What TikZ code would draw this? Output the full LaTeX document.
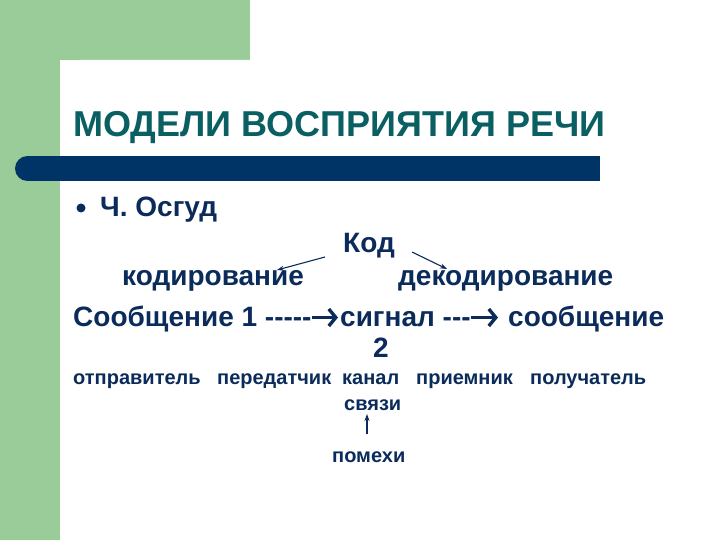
\documentclass[tikz,border=0pt]{standalone}
\usepackage{fontspec}
\setmainfont{Liberation Sans}
\usetikzlibrary{arrows.meta}
\definecolor{gr}{HTML}{99CC99}
\definecolor{teal1}{HTML}{0A5F63}
\definecolor{navy}{HTML}{0B2B5B}
\definecolor{bar}{HTML}{003366}
\tikzset{
  body/.style={anchor=base west, inner sep=0pt, text=navy, font=\fontsize{28}{30}\selectfont\bfseries},
  small/.style={anchor=base west, inner sep=0pt, text=navy, font=\fontsize{20}{22}\selectfont\bfseries},
  conn/.style={navy, line width=1.1pt, -{Stealth[length=7pt,width=5pt]}},
  chev/.style={navy, line width=3.4pt, -{Straight Barb[length=7pt,width=17pt,line width=3.4pt]}}
}
\begin{document}
\begin{tikzpicture}[x=1pt,y=-1pt]
\useasboundingbox (0,0) rectangle (720,540);
\fill[white] (0,0) rectangle (720,540);
\fill[gr] (0,0) rectangle (250,60);
\fill[gr] (0,0) rectangle (60,540);
\fill[white] (60,540) -- (60,80) arc[start angle=180, end angle=90, x radius=20, y radius=-20] -- (720,60) -- (720,540) -- cycle;
% bar
\fill[bar, rounded corners=12.5pt] (15,156) rectangle (40,181);
\fill[bar] (28,156) rectangle (600,181);
% title
\node[anchor=base west, inner sep=0pt, text=teal1, font=\fontsize{36}{38}\selectfont\bfseries] (title) at (73,137) {МОДЕЛИ ВОСПРИЯТИЯ РЕЧИ};
% bullet
\fill[navy] (81,208) circle (4.5);
\node[body] (osgud) at (100,216) {Ч. Осгуд};
\node[body] (kod) at (343,252) {Код};
\node[body] (kodir) at (122,285) {кодирование};
\node[body] (dekodir) at (398,285) {декодирование};
\node[body] (msg1) at (73,326) {Сообщение 1 -{}-{}-{}-{}-};
\node[body] (signal) at (340,326) {сигнал -{}-{}-};
\node[body] (msg2) at (508,326) {сообщение};
\draw[chev] ([yshift=8.5pt]msg1.base east) -- ([yshift=8.5pt,xshift=-2pt]signal.base west);
\draw[chev] ([yshift=8.5pt]signal.base east) -- ([yshift=8.5pt,xshift=-10pt]msg2.base west);
\node[body] (two) at (373,357) {2};
\node[small] (w1) at (73,384) {отправитель};
\node[small] (w2) at (217,384) {передатчик};
\node[small] (w3) at (342,384) {канал};
\node[small] (w4) at (416,384) {приемник};
\node[small] (w5) at (530,384) {получатель};
\node[small] (svyazi) at (344,410) {связи};
\node[small] (pomehi) at (332,462) {помехи};
\coordinate (a1s) at (325,257);
\coordinate (a1e) at (277,270);
\coordinate (a2s) at (412,252);
\coordinate (a2e) at (447,269);
\coordinate (a3s) at (367,434);
\coordinate (a3e) at (367,414);
\draw[conn] (a1s) -- (a1e);
\draw[conn] (a2s) -- (a2e);
\draw[conn, line width=1.4pt] (a3s) -- (a3e);
\end{tikzpicture}
\end{document}
